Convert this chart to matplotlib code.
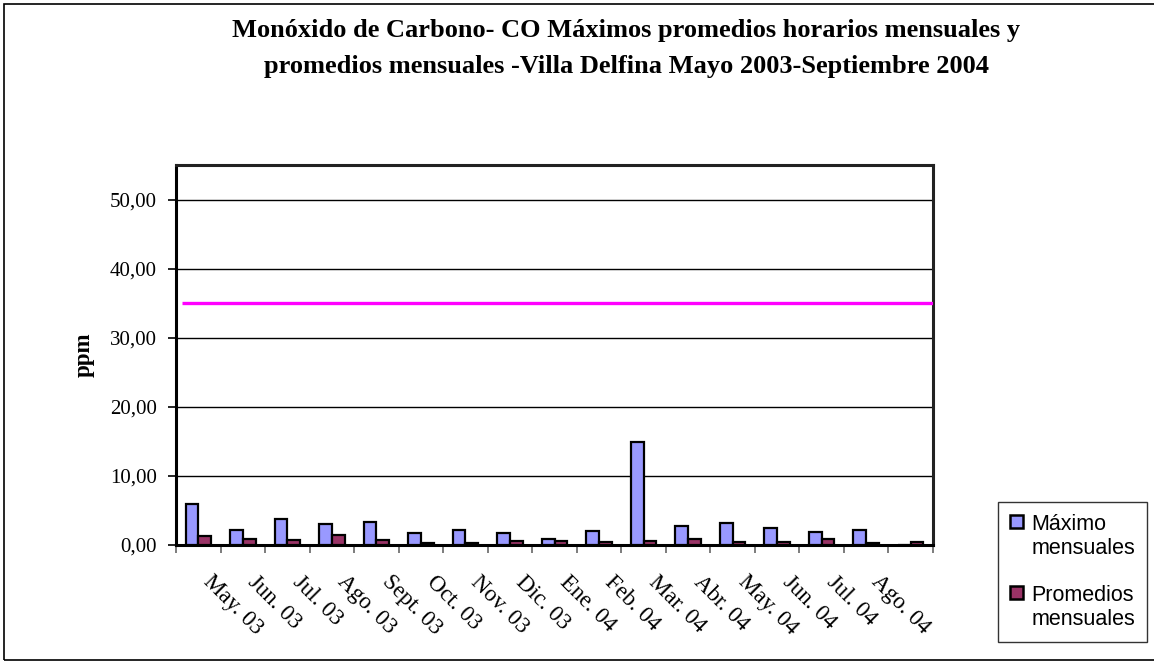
import matplotlib
matplotlib.use("Agg")
import matplotlib.pyplot as plt
import matplotlib.transforms as mtransforms
import numpy as np
from matplotlib.patches import Rectangle
from matplotlib.container import BarContainer
from matplotlib.legend_handler import HandlerPatch, update_from_first_child
from matplotlib.ticker import FuncFormatter

# data
months = ["May. 03", "Jun. 03", "Jul. 03", "Ago. 03", "Sept. 03", "Oct. 03",
          "Nov. 03", "Dic. 03", "Ene. 04", "Feb. 04", "Mar. 04", "Abr. 04",
          "May. 04", "Jun. 04", "Jul. 04", "Ago. 04", "Sept. 04"]
shown_labels = months[:-1] + [""]   # last label not drawn in the original
maximos = [6.0, 2.1, 3.8, 3.1, 3.3, 1.7, 2.2, 1.8, 0.8, 2.0, 14.9,
           2.8, 3.2, 2.4, 1.9, 2.2, 0.0]
promedios = [1.25, 0.9, 0.7, 1.4, 0.75, 0.3, 0.3, 0.55, 0.6, 0.5, 0.55,
             0.8, 0.5, 0.5, 0.8, 0.35, 0.4]
norma = 35.0
yticks = [0, 10, 20, 30, 40, 50]

W, H = 1154, 662
fig = plt.figure(figsize=(W / 100, H / 100), dpi=100)
ax = fig.add_axes([176 / W, 1 - 545 / H, (933 - 176) / W, (545 - 165) / H])

x = np.arange(len(months))
bw = 1 / 3.5
ax.bar(x - bw / 2, maximos, bw, color="#9999FF", edgecolor="black",
       linewidth=1.6, label="Máximo\nmensuales", zorder=3)
ax.bar(x + bw / 2, promedios, bw, color="#993366", edgecolor="black",
       linewidth=1.6, label="Promedios\nmensuales", zorder=3)

# limit line
ax.plot([-0.36, len(months) - 0.5], [norma, norma], color="#FF00FF",
        linewidth=2.4, zorder=4, solid_capstyle="butt")

ax.set_xlim(-0.5, len(months) - 0.5)
ax.set_ylim(0, 55)
ax.set_yticks(yticks)
ax.yaxis.set_major_formatter(FuncFormatter(lambda v, p: ("%.2f" % v).replace(".", ",")))
ax.grid(axis="y", color="black", linewidth=1.0, zorder=1)
ax.set_axisbelow(True)

ax.set_xticks(x)
ax.set_xticks(np.arange(len(months) + 1) - 0.5, minor=True)
ax.set_xticklabels(shown_labels, rotation=-45, ha="left", va="top",
                   rotation_mode="anchor", fontsize=16.5, family="Liberation Serif")
ax.tick_params(axis="x", which="major", length=0, pad=19)
ax.tick_params(axis="x", which="minor", length=6, width=1.2, color="#666666", direction="out")
ax.tick_params(axis="y", length=6, width=1.2, pad=8, labelsize=15)
for t in ax.get_yticklabels():
    t.set_family("Liberation Serif")
shift = mtransforms.ScaledTranslation(16 / 100, 0, fig.dpi_scale_trans)
for t in ax.get_xticklabels():
    t.set_transform(t.get_transform() + shift)

for s in ["left", "bottom"]:
    ax.spines[s].set_linewidth(2.2)
    ax.spines[s].set_color("black")
for s in ["top", "right"]:
    ax.spines[s].set_linewidth(2.2)
    ax.spines[s].set_color("#222222")

ax.set_ylabel("ppm", fontsize=16.5, fontweight="bold", family="Liberation Serif",
              labelpad=0)
ax.yaxis.set_label_coords(-(176 - 95) / (933 - 176), 0.5)

fig.text(626 / W, 1 - 30 / H,
         "Monóxido de Carbono- CO Máximos promedios horarios mensuales y",
         ha="center", va="center", fontsize=19, fontweight="bold",
         family="Liberation Serif")
fig.text(626 / W, 1 - 66 / H,
         "promedios mensuales -Villa Delfina Mayo 2003-Septiembre 2004",
         ha="center", va="center", fontsize=19, fontweight="bold",
         family="Liberation Serif")


# legend square sits next to the first text line, like in the original
def top_square(legend, orig_handle, xdescent, ydescent, width, height, fontsize):
    s = 0.6 * fontsize
    return Rectangle((-xdescent, -ydescent + 0.75 * fontsize), s, s)


hp = HandlerPatch(patch_func=top_square, update_func=update_from_first_child)
leg = ax.legend(loc="upper left", bbox_to_anchor=(998 / W, 1 - 502 / H),
                bbox_transform=fig.transFigure, prop={"family": "Liberation Sans", "size": 15.5},
                frameon=True, fancybox=False, edgecolor="black", handlelength=0.7,
                handleheight=0.7, handletextpad=0.3, labelspacing=1.2,
                borderpad=0.55, borderaxespad=0,
                handler_map={BarContainer: hp})
leg.get_frame().set_linewidth(1.0)
for p in leg.get_patches():
    p.set_linewidth(1.8)

# chart border
fig.patches.append(Rectangle((4 / W, 2 / H), 1.1, 1 - 6 / H, transform=fig.transFigure,
                             fill=False, edgecolor="black", linewidth=1.2))

fig.savefig("out.png", dpi=100)
